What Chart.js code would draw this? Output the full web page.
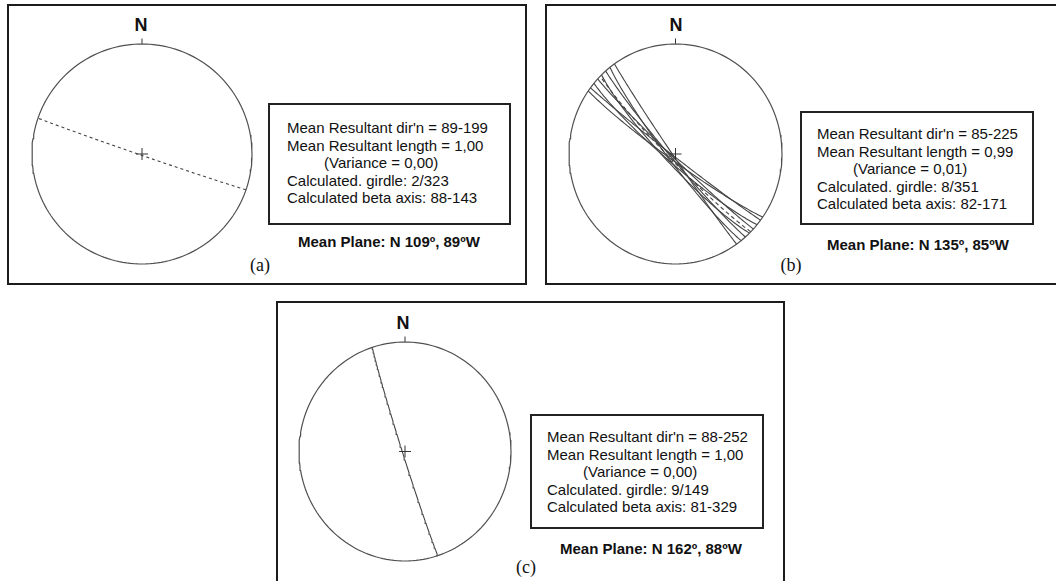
<!DOCTYPE html>
<html>
<head>
<meta charset="utf-8">
<script src="https://cdn.jsdelivr.net/npm/chart.js@4.4.1/dist/chart.umd.min.js"></script>
<style>
  html, body { margin: 0; padding: 0; background: #fff; }
  body { width: 1056px; height: 581px; position: relative; overflow: hidden;
         font-family: "Liberation Sans", Arial, sans-serif; color: #111; }
  .panel { position: absolute; box-sizing: border-box; border: 2px solid #1c1c1c; }
  .stats { position: absolute; box-sizing: border-box; border: 2px solid #222; }
  .lines { position: absolute; font-size: 15px; line-height: 17.5px; white-space: nowrap; }
  .plane { position: absolute; font-size: 15px; line-height: 18px; font-weight: bold; white-space: nowrap; }
  .north { position: absolute; font-size: 18px; line-height: 18px; font-weight: bold; width: 30px; text-align: center; }
  .tag { position: absolute; font-family: "Liberation Serif", "Times New Roman", serif; font-size: 18px;
         line-height: 18px; width: 40px; text-align: center; }
  canvas { position: absolute; }
</style>
</head>
<body>
<div class="panel" style="left:7px;top:4px;width:520px;height:281px;"></div>
<div class="panel" style="left:545px;top:4px;width:530px;height:281px;"></div>
<div class="panel" style="left:276px;top:301px;width:509px;height:300px;"></div>

<div class="stats" style="left:268px;top:103px;width:243px;height:122px;"></div>
<div class="stats" style="left:800px;top:111px;width:234px;height:114px;"></div>
<div class="stats" style="left:530px;top:414px;width:234px;height:115px;"></div>

<div id="linesA" class="lines" style="left:287px;top:119px;"></div>
<div id="linesB" class="lines" style="left:817px;top:125px;"></div>
<div id="linesC" class="lines" style="left:547px;top:428px;"></div>

<div id="planeA" class="plane" style="left:298px;top:233px;"></div>
<div id="planeB" class="plane" style="left:827px;top:236px;"></div>
<div id="planeC" class="plane" style="left:560px;top:540px;"></div>

<div class="north" style="left:126px;top:16px;">N</div>
<div class="north" style="left:661px;top:16px;">N</div>
<div class="north" style="left:388px;top:314px;">N</div>

<div class="tag" style="left:240px;top:256px;">(a)</div>
<div class="tag" style="left:771px;top:256px;">(b)</div>
<div class="tag" style="left:506px;top:558px;">(c)</div>

<canvas id="netA"></canvas>
<canvas id="netB"></canvas>
<canvas id="netC"></canvas>

<script>
// Plane orientations (strike in degrees from N, dip in degrees, dip to the right of strike)
const strikesA = [109];
const dipsA = [89];

const strikesB = [125, 127, 130, 133, 136, 139, 142, 145];
const dipsB = [85, 88, 83, 87, 82, 86, 84, 88];
const meanStrikeB = 135;
const meanDipB = 85;
const meanResultantB = [85, 225]; // plunge, trend

const strikesC = [162];
const dipsC = [88];

// Statistics printed beside each net
const statsA = ["Mean Resultant dir'n = 89-199", "Mean Resultant length = 1,00", "(Variance = 0,00)",
                "Calculated. girdle: 2/323", "Calculated beta axis: 88-143"];
const statsB = ["Mean Resultant dir'n = 85-225", "Mean Resultant length = 0,99", "(Variance = 0,01)",
                "Calculated. girdle: 8/351", "Calculated beta axis: 82-171"];
const statsC = ["Mean Resultant dir'n = 88-252", "Mean Resultant length = 1,00", "(Variance = 0,00)",
                "Calculated. girdle: 9/149", "Calculated beta axis: 81-329"];
const meanPlaneA = "Mean Plane: N 109º, 89ºW";
const meanPlaneB = "Mean Plane: N 135º, 85ºW";
const meanPlaneC = "Mean Plane: N 162º, 88ºW";

function fillText(id, lines, indent) {
  const el = document.getElementById(id);
  lines.forEach((t, i) => {
    const d = document.createElement('div');
    d.textContent = t;
    if (i === 2) d.style.paddingLeft = indent + 'px';
    el.appendChild(d);
  });
}
fillText('linesA', statsA, 37);
fillText('linesB', statsB, 36);
fillText('linesC', statsC, 36);
document.getElementById('planeA').textContent = meanPlaneA;
document.getElementById('planeB').textContent = meanPlaneB;
document.getElementById('planeC').textContent = meanPlaneC;

// Equal-area (Schmidt) lower-hemisphere projection
const D2R = Math.PI / 180;
function project(plunge, trend) {
  const r = Math.SQRT2 * Math.sin((90 - plunge) / 2 * D2R);
  return { x: r * Math.sin(trend * D2R), y: r * Math.cos(trend * D2R) };
}
function greatCircle(strike, dip) {
  const dd = (strike + 90) * D2R, s = strike * D2R, d = dip * D2R;
  const S = [Math.sin(s), Math.cos(s), 0];
  const D = [Math.cos(d) * Math.sin(dd), Math.cos(d) * Math.cos(dd), Math.sin(d)];
  const pts = [];
  for (let t = 0; t <= 180; t += 2) {
    const c = Math.cos(t * D2R), sn = Math.sin(t * D2R);
    const v = [c * S[0] + sn * D[0], c * S[1] + sn * D[1], c * S[2] + sn * D[2]];
    const plunge = Math.asin(Math.max(-1, Math.min(1, v[2]))) / D2R;
    const trend = Math.atan2(v[0], v[1]) / D2R;
    pts.push(project(plunge, trend));
  }
  return pts;
}
const primitive = [];
for (let a = 0; a <= 360; a += 2) primitive.push({ x: Math.sin(a * D2R), y: Math.cos(a * D2R) });

function baseSets() {
  return [
    { data: primitive, showLine: true, borderColor: '#505050', borderWidth: 1.2, pointRadius: 0 },
    { data: [{ x: 0, y: 1 }, { x: 0, y: 1.05 }], showLine: true, borderColor: '#333', borderWidth: 1, pointRadius: 0 },
    { data: [{ x: 0, y: 0 }], showLine: false, pointStyle: 'cross', pointRadius: 6,
      borderColor: '#333', borderWidth: 1 }
  ];
}
function planeSets(strikes, dips, dash) {
  return strikes.map((s, i) => ({
    data: greatCircle(s, dips[i]), showLine: true, borderColor: '#444', borderWidth: 1.1,
    borderDash: dash || [], pointRadius: 0
  }));
}

function drawNet(id, cx, cy, rx, ry, datasets) {
  const pad = 10;
  const cv = document.getElementById(id);
  cv.width = Math.round(2 * rx + 2 * pad);
  cv.height = Math.round(2 * ry + 2 * pad);
  cv.style.left = (cx - rx - pad) + 'px';
  cv.style.top = (cy - ry - pad) + 'px';
  new Chart(cv, {
    type: 'scatter',
    data: { datasets: datasets.map(ds => Object.assign({ clip: false, tension: 0 }, ds)) },
    options: {
      responsive: false, animation: false, devicePixelRatio: 1, events: [],
      layout: { padding: pad },
      plugins: { legend: { display: false }, tooltip: { enabled: false } },
      scales: {
        x: { type: 'linear', min: -1, max: 1, display: false },
        y: { type: 'linear', min: -1, max: 1, display: false }
      }
    }
  });
}

drawNet('netA', 141.5, 153.5, 110, 110,
  baseSets().concat(planeSets(strikesA, dipsA, [3, 3])));

const meanB = project(meanResultantB[0], meanResultantB[1]);
drawNet('netB', 675.5, 154, 106.5, 110,
  baseSets()
    .concat(planeSets(strikesB, dipsB))
    .concat(planeSets([meanStrikeB], [meanDipB], [4, 3]))
    .concat([{ data: [meanB], showLine: false, pointStyle: 'circle', pointRadius: 3,
               borderColor: '#444', borderWidth: 1, backgroundColor: 'rgba(0,0,0,0)' }]));

drawNet('netC', 405, 451.5, 106, 109.5,
  baseSets().concat(planeSets(strikesC, dipsC)));
</script>
</body>
</html>
